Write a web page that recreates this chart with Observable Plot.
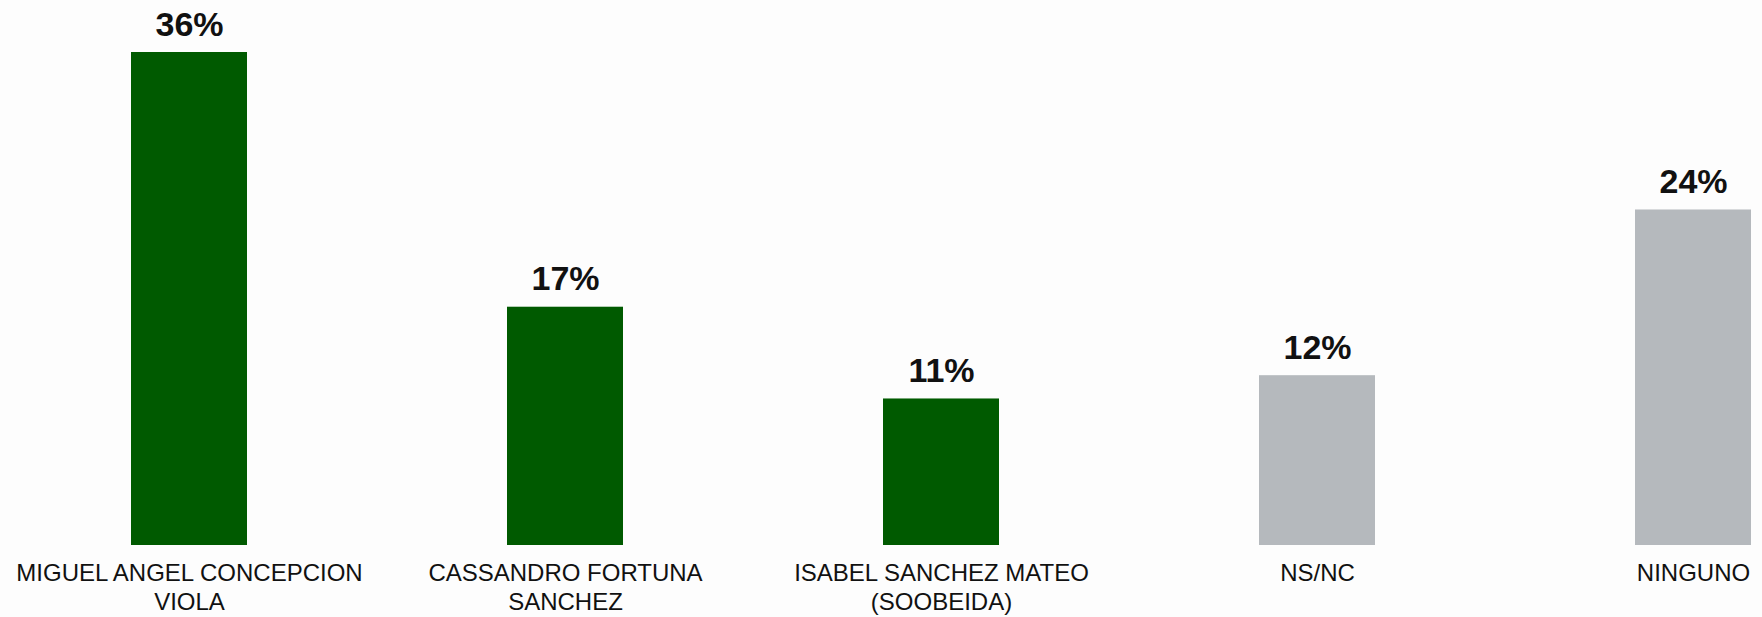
<!DOCTYPE html>
<html>
<head>
<meta charset="utf-8">
<script src="https://cdn.jsdelivr.net/npm/d3@7"></script>
<script src="https://cdn.jsdelivr.net/npm/@observablehq/plot@0.6"></script>
<style>
  html, body { margin: 0; padding: 0; background: #fdfdfd; }
  #chart svg { display: block; }
</style>
</head>
<body>
<div id="chart"></div>
<script>
const categories = [
  "MIGUEL ANGEL CONCEPCION\nVIOLA",
  "CASSANDRO FORTUNA\nSANCHEZ",
  "ISABEL SANCHEZ MATEO\n(SOOBEIDA)",
  "NS/NC",
  "NINGUNO"
];
// bar heights
const values = [36, 17.4, 10.7, 12.4, 24.5];
const groups = ["candidato", "candidato", "candidato", "otro", "otro"];
const valueLabels = ["36%", "17%", "11%", "12%", "24%"];

const data = categories.map((c, i) => ({name: c, value: values[i], group: groups[i], label: valueLabels[i]}));

const chart = Plot.plot({
  width: 1762,
  height: 617,
  marginLeft: 129,
  marginRight: 9,
  marginTop: 52,
  marginBottom: 72,
  style: {background: "#fdfdfd", fontFamily: "'Liberation Sans', Arial, sans-serif", color: "#111"},
  x: {domain: categories, paddingInner: 0.692, paddingOuter: 0, axis: null},
  y: {domain: [0, 36], axis: null},
  color: {domain: ["candidato", "otro"], range: ["#005a00", "#b5b9bd"]},
  marks: [
    Plot.barY(data, {x: "name", y: "value", fill: "group"}),
    Plot.text(data, {x: "name", y: "value", text: "label", dy: -17, lineAnchor: "bottom",
      fontSize: 34, fontWeight: "bold", fill: "#111"}),
    Plot.text(data, {x: "name", y: () => 0, text: "name", dy: 16, lineAnchor: "top",
      lineHeight: 1.17, fontSize: 24, fill: "#111"})
  ]
});
document.getElementById("chart").appendChild(chart);
</script>
</body>
</html>
